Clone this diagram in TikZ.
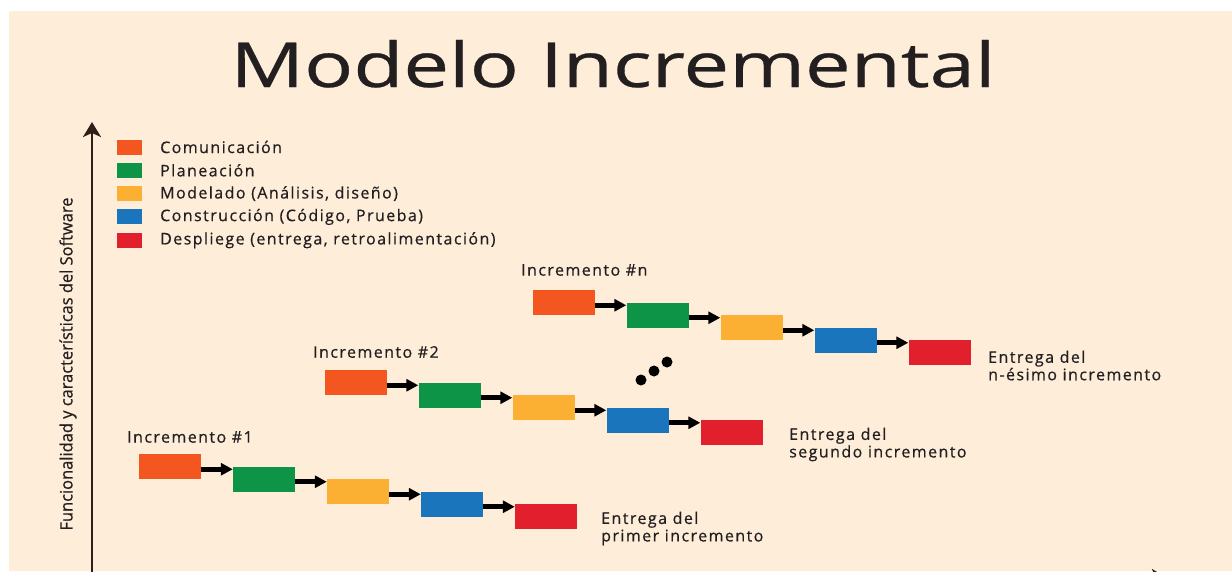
\documentclass[tikz,border=0pt]{standalone}
\usepackage{fontspec}
\setmainfont{Open Sans}
\newfontfamily\lblfont[LetterSpace=9,FakeBold=0.6]{Open Sans}
\newfontfamily\titlefont[FakeBold=0.4]{Open Sans}
\usetikzlibrary{arrows.meta,calc}
\definecolor{bg}{HTML}{FEEDD9}
\definecolor{cOr}{HTML}{F4561F}
\definecolor{cGr}{HTML}{0E9447}
\definecolor{cYe}{HTML}{FBB033}
\definecolor{cBl}{HTML}{1B75BC}
\definecolor{cRe}{HTML}{E21F2C}
\definecolor{axc}{HTML}{2E2018}
\definecolor{txt}{HTML}{231F20}
\begin{document}
\begin{tikzpicture}[x=1pt,y=-1pt,
  phase/.style={rectangle, minimum width=62pt, minimum height=25pt, inner sep=0pt, draw=none},
  legsq/.style={rectangle, minimum width=25pt, minimum height=15pt, inner sep=0pt, draw=none},
  lbl/.style={anchor=west, inner sep=0pt, align=left, text=txt, font=\lblfont\fontsize{16}{17.5}\selectfont},
  flow/.style={line width=5pt, black, -{Triangle[length=12pt,width=12pt]}},
  axis/.style={line width=2.5pt, axc, -{Stealth[length=15pt,width=18pt,inset=4pt]}},
  dot/.style={circle, fill=black, inner sep=0pt, minimum size=11pt}
]
\useasboundingbox (0,0) rectangle (1232,571);
\clip (0,0) rectangle (1232,571);
\fill[white] (0,0) rectangle (1232,571);
\fill[bg] (9,11) rectangle (1232,571);

% title
\node[anchor=base, inner sep=0pt, text=txt] (title) at (613,87)
  {\resizebox{765pt}{\height}{\titlefont\fontsize{62}{64}\selectfont Modelo Incremental}};

% axes
\coordinate (yb) at (92,590);
\coordinate (yt) at (92,122);
\draw[axis] (yb) -- (yt);
\coordinate (xb) at (92,578);
\coordinate (xe) at (1167,578);
\draw[axis] (xb) -- (xe);
\node[rotate=90, inner sep=0pt, text=txt] (ylab) at (68,364)
  {\resizebox{333pt}{\height}{\lblfont\addfontfeature{LetterSpace=0}\fontsize{17}{18}\selectfont Funcionalidad y características del Software}};

% legend
\foreach \c/\t [count=\i from 0] in {cOr/Comunicación, cGr/Planeación, cYe/{Modelado (Análisis, diseño)}, cBl/{Construcción (Código, Prueba)}, cRe/{Despliege (entrega, retroalimentación)}} {
  \node[legsq, fill=\c] (sq\i) at (129.5,147+23.3*\i) {};
  \node[lbl] (lg\i) at (160,147+23.3*\i) {\t};
}

% rows
\foreach \r/\x/\y in {a/170/466.5, b/355.5/382.5, n/563.5/302.5} {
  \foreach \c [count=\i from 0] in {cOr,cGr,cYe,cBl,cRe} {
    \node[phase, fill=\c] (\r\i) at (\x+94*\i, \y+12.5*\i) {};
  }
  \foreach \i [evaluate=\i as \j using int(\i+1)] in {0,...,3} {
    \path ($(\r\i.center)!0.5!(\r\j.center)$) ++(0,-3.5) coordinate (m);
    \draw[flow] (\r\i.east |- m) -- (\r\j.west |- m);
  }
}

% labels
\node[lbl] (inc1) at (127,437) {Incremento \#1};
\node[lbl] (inc2) at (313,352) {Incremento \#2};
\node[lbl] (incn) at (521,270) {Incremento \#n};
\node[lbl] (ent1) at (601,528.5) {Entrega del\\primer incremento};
\node[lbl] (ent2) at (789,444.5) {Entrega del\\segundo incremento};
\node[lbl] (entn) at (988,365.5) {Entrega del\\n-ésimo incremento};

% dots
\node[dot] (d1) at (641,380) {};
\node[dot] (d2) at (654,371) {};
\node[dot] (d3) at (667,362) {};
\end{tikzpicture}
\end{document}
